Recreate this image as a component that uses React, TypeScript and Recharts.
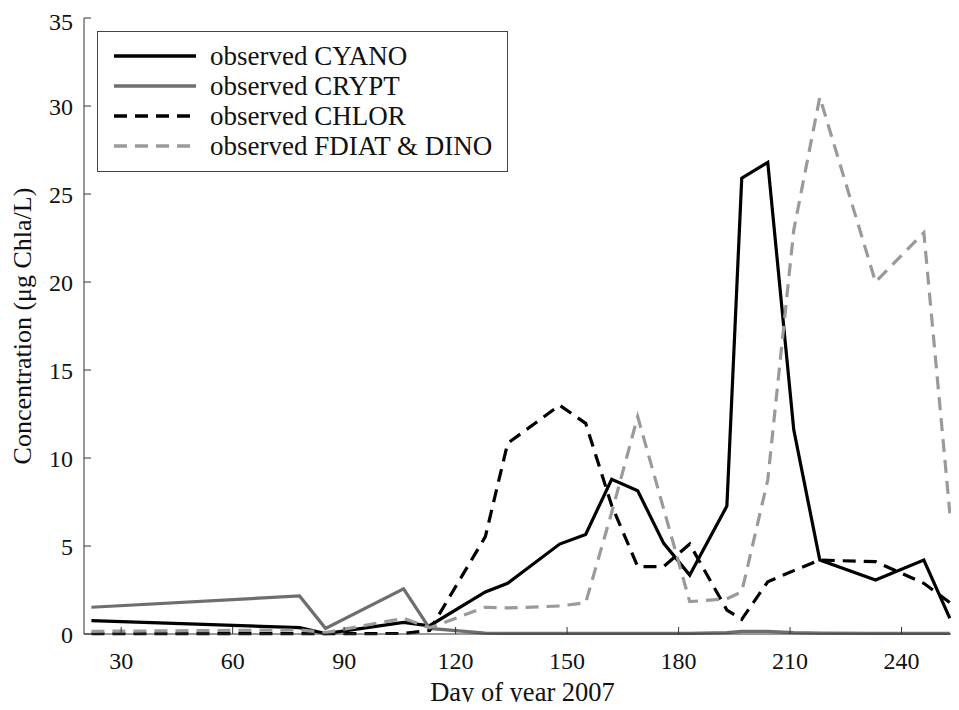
import { CartesianGrid, Legend, Line, LineChart, XAxis, YAxis } from "recharts";

const days = [22, 78, 85, 106, 113, 128, 134, 148, 155, 162, 169, 176, 183, 193, 197, 204, 211, 218, 233, 246, 253];
const cyano = [0.76, 0.36, 0.02, 0.66, 0.47, 2.39, 2.88, 5.11, 5.66, 8.79, 8.14, 5.15, 3.35, 7.27, 25.9, 26.8, 11.6, 4.2, 3.07, 4.2, 0.89];
const crypt = [1.52, 2.16, 0.32, 2.57, 0.32, 0.05, 0.04, 0.03, 0.03, 0.03, 0.03, 0.03, 0.04, 0.08, 0.15, 0.15, 0.08, 0.05, 0.04, 0.04, 0.03];
const chlor = [0.02, 0.02, 0.02, 0.03, 0.2, 5.53, 10.83, 13.0, 11.97, 7.3, 3.83, 3.83, 5.11, 1.36, 0.83, 2.97, 3.6, 4.2, 4.11, 2.88, 1.78];
const fdiat = [0.15, 0.23, 0.08, 0.89, 0.35, 1.52, 1.48, 1.59, 1.78, 6.9, 12.35, 7.1, 1.84, 2.0, 2.4, 8.75, 22.95, 30.5, 20.0, 22.8, 6.86];

const xTicks = [30, 60, 90, 120, 150, 180, 210, 240];
const yTicks = [0, 5, 10, 15, 20, 25, 30, 35];

const series = [
  { key: "cyano", name: "observed CYANO", color: "#000000", dash: undefined },
  { key: "crypt", name: "observed CRYPT", color: "#6e6e6e", dash: undefined },
  { key: "chlor", name: "observed CHLOR", color: "#000000", dash: "13 8" },
  { key: "fdiat", name: "observed FDIAT & DINO", color: "#9a9a9a", dash: "13 8" },
];

const rows = days.map((day, i) => ({
  day,
  cyano: cyano[i],
  crypt: crypt[i],
  chlor: chlor[i],
  fdiat: fdiat[i],
}));

const font = "'Liberation Serif', 'Times New Roman', serif";
const axisStroke = "#333";

function LegendBox() {
  return (
    <div style={{ border: "1px solid #444", background: "#fff", padding: "9px 0 10px", fontFamily: font, fontSize: 27, color: "#111" }}>
      {series.map((s) => (
        <div key={s.key} style={{ display: "flex", alignItems: "center", height: 30 }}>
          <svg width={98} height={6} style={{ flex: "none" }}>
            <line x1={16} x2={98} y1={3} y2={3} stroke={s.color} strokeWidth={3.5} strokeDasharray={s.dash} />
          </svg>
          <span style={{ marginLeft: 14, whiteSpace: "nowrap", lineHeight: "30px" }}>{s.name}</span>
        </div>
      ))}
    </div>
  );
}

export default function App() {
  return (
    <div style={{ width: 951, height: 702, marginBottom: -8, overflow: "hidden" }}>
      <LineChart width={1000} height={702} data={rows} margin={{ top: 10, right: 37, left: 0, bottom: 0 }}>
        <CartesianGrid stroke="none" />
        <XAxis
          xAxisId="bottom"
          dataKey="day"
          type="number"
          domain={[20, 256]}
          ticks={xTicks}
          height={76}
          stroke={axisStroke}
          tickSize={-7}
          tickMargin={25}
          tick={{ fill: "#111", fontSize: 24, fontFamily: font }}
          label={{ value: "Day of year 2007", position: "insideBottom", offset: 9, fill: "#111", fontSize: 26.5, fontFamily: font }}
        />
        <XAxis
          xAxisId="top"
          orientation="top"
          dataKey="day"
          type="number"
          domain={[20, 256]}
          ticks={xTicks}
          height={0}
          stroke={axisStroke}
          tickSize={-7}
          tickFormatter={() => ""}
        />
        <YAxis
          yAxisId="left"
          domain={[0, 35]}
          ticks={yTicks}
          width={76}
          stroke={axisStroke}
          tickSize={-7}
          tickMargin={18}
          tick={{ fill: "#111", fontSize: 24, fontFamily: font }}
          label={{
            value: "Concentration (μg Chla/L)",
            angle: -90,
            position: "insideLeft",
            offset: 14,
            fill: "#111",
            fontSize: 26,
            fontFamily: font,
            style: { textAnchor: "middle" },
          }}
        />
        <YAxis
          yAxisId="right"
          orientation="right"
          domain={[0, 35]}
          ticks={yTicks}
          width={10}
          stroke={axisStroke}
          tickSize={-7}
          tickFormatter={() => ""}
        />
        <Legend
          layout="vertical"
          align="center"
          verticalAlign="middle"
          wrapperStyle={{ left: 89, top: 23, width: 411 }}
          content={() => <LegendBox />}
        />
        {series.map((s) => (
          <Line
            key={s.key}
            xAxisId="bottom"
            yAxisId="left"
            type="linear"
            dataKey={s.key}
            name={s.name}
            stroke={s.color}
            strokeWidth={3.2}
            strokeDasharray={s.dash}
            dot={false}
            activeDot={false}
            isAnimationActive={false}
          />
        ))}
      </LineChart>
    </div>
  );
}
